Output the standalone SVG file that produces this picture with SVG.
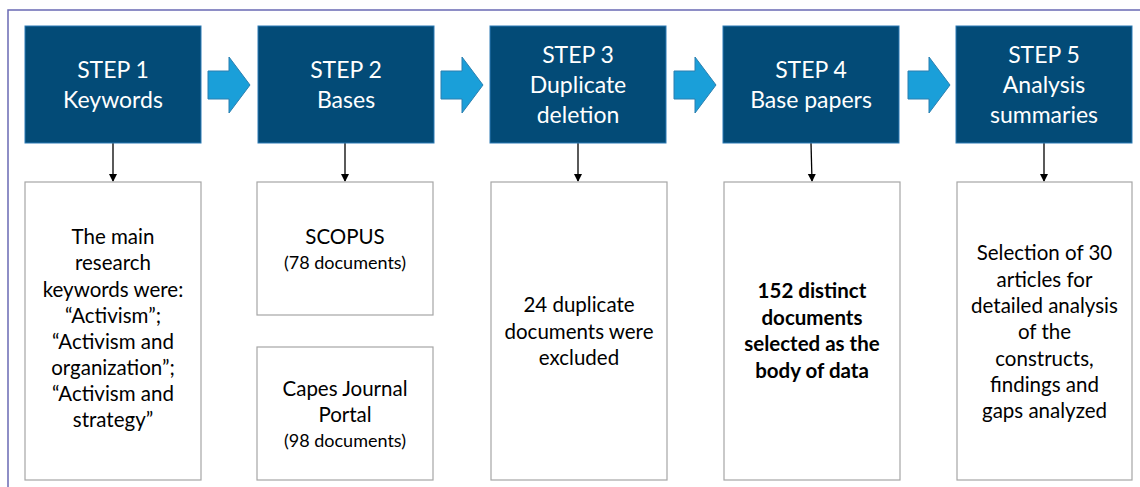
<svg xmlns="http://www.w3.org/2000/svg" width="1140" height="487" viewBox="0 0 1140 487">
<defs>
<style>
.frame{fill:none;stroke:#6a6ab4;stroke-width:1.5}
.step{fill:#034b77;stroke:#2c7bb5;stroke-width:1}
.step-t{font-family:Lato,"Liberation Sans",sans-serif;font-size:23px;fill:#ffffff;text-anchor:middle}
.box{fill:#ffffff;stroke:#a6a6a6;stroke-width:1.2}
.body-t{font-family:Lato,"Liberation Sans",sans-serif;font-size:20.5px;fill:#000000;text-anchor:middle}
.small-t{font-size:18px}
.bold{font-weight:bold}
.harrow{fill:#1a9fd9;stroke:#2a7fb0;stroke-width:1}
.vline{stroke:#000000;stroke-width:1.3;fill:none}
</style>
<marker id="ah" markerWidth="8" markerHeight="9" refX="7" refY="4" orient="auto" markerUnits="userSpaceOnUse">
<path d="M0,0 L8,4 L0,8 Z" fill="#000000"/>
</marker>
</defs>
<rect class="frame" x="8" y="10" width="1150" height="500"/>

<g id="connectors">
<path class="harrow" d="M208,71 H229 V57 L250,85 L229,113 V99 H208 Z"/>
<path class="harrow" d="M441,71 H462 V57 L483,85 L462,113 V99 H441 Z"/>
<path class="harrow" d="M674,71 H695 V57 L716,85 L695,113 V99 H674 Z"/>
<path class="harrow" d="M908,71 H929 V57 L950,85 L929,113 V99 H908 Z"/>
<line class="vline" x1="113" y1="143" x2="113" y2="181" marker-end="url(#ah)"/>
<line class="vline" x1="345" y1="143" x2="345" y2="181" marker-end="url(#ah)"/>
<line class="vline" x1="578" y1="143" x2="578" y2="181" marker-end="url(#ah)"/>
<line class="vline" x1="811" y1="143" x2="812" y2="181" marker-end="url(#ah)"/>
<line class="vline" x1="1044" y1="143" x2="1044" y2="181" marker-end="url(#ah)"/>
</g>

<g id="step1">
<rect class="step" x="25" y="26" width="176" height="117"/>
<text class="step-t" x="113" y="78">STEP 1</text>
<text class="step-t" x="113" y="108">Keywords</text>
</g>
<g id="step2">
<rect class="step" x="258" y="26" width="176" height="117"/>
<text class="step-t" x="346" y="78">STEP 2</text>
<text class="step-t" x="346" y="108">Bases</text>
</g>
<g id="step3">
<rect class="step" x="490" y="26" width="176" height="117"/>
<text class="step-t" x="578" y="63">STEP 3</text>
<text class="step-t" x="578" y="93">Duplicate</text>
<text class="step-t" x="578" y="123">deletion</text>
</g>
<g id="step4">
<rect class="step" x="723" y="26" width="176" height="117"/>
<text class="step-t" x="811" y="78">STEP 4</text>
<text class="step-t" x="811" y="108">Base papers</text>
</g>
<g id="step5">
<rect class="step" x="956" y="26" width="176" height="117"/>
<text class="step-t" x="1044" y="63">STEP 5</text>
<text class="step-t" x="1044" y="93">Analysis</text>
<text class="step-t" x="1044" y="123">summaries</text>
</g>

<g id="box1">
<rect class="box" x="25" y="182" width="176" height="298"/>
<text class="body-t" x="113" y="244">The main</text>
<text class="body-t" x="113" y="270">research</text>
<text class="body-t" x="113" y="296.5">keywords were:</text>
<text class="body-t" x="113" y="322.5">“Activism”;</text>
<text class="body-t" x="113" y="348.5">“Activism and</text>
<text class="body-t" x="113" y="375">organization”;</text>
<text class="body-t" x="113" y="401">“Activism and</text>
<text class="body-t" x="113" y="427">strategy”</text>
</g>
<g id="box2a">
<rect class="box" x="257" y="182" width="176" height="133"/>
<text class="body-t" x="345" y="244">SCOPUS</text>
<text class="body-t small-t" x="345" y="269">(78 documents)</text>
</g>
<g id="box2b">
<rect class="box" x="257" y="347" width="176" height="133"/>
<text class="body-t" x="345" y="396">Capes Journal</text>
<text class="body-t" x="345" y="422">Portal</text>
<text class="body-t small-t" x="345" y="447">(98 documents)</text>
</g>
<g id="box3">
<rect class="box" x="491" y="182" width="176" height="298"/>
<text class="body-t" x="579" y="312">24 duplicate</text>
<text class="body-t" x="579" y="338.5">documents were</text>
<text class="body-t" x="579" y="365">excluded</text>
</g>
<g id="box4">
<rect class="box" x="724" y="182" width="176" height="298"/>
<text class="body-t bold" x="812" y="298">152 distinct</text>
<text class="body-t bold" x="812" y="324.5">documents</text>
<text class="body-t bold" x="812" y="351">selected as the</text>
<text class="body-t bold" x="812" y="378">body of data</text>
</g>
<g id="box5">
<rect class="box" x="957" y="182" width="175" height="298"/>
<text class="body-t" x="1044.5" y="260">Selection of 30</text>
<text class="body-t" x="1044.5" y="286.5">articles for</text>
<text class="body-t" x="1044.5" y="312.5">detailed analysis</text>
<text class="body-t" x="1044.5" y="339">of the</text>
<text class="body-t" x="1044.5" y="365.5">constructs,</text>
<text class="body-t" x="1044.5" y="391.5">findings and</text>
<text class="body-t" x="1044.5" y="418">gaps analyzed</text>
</g>
</svg>
